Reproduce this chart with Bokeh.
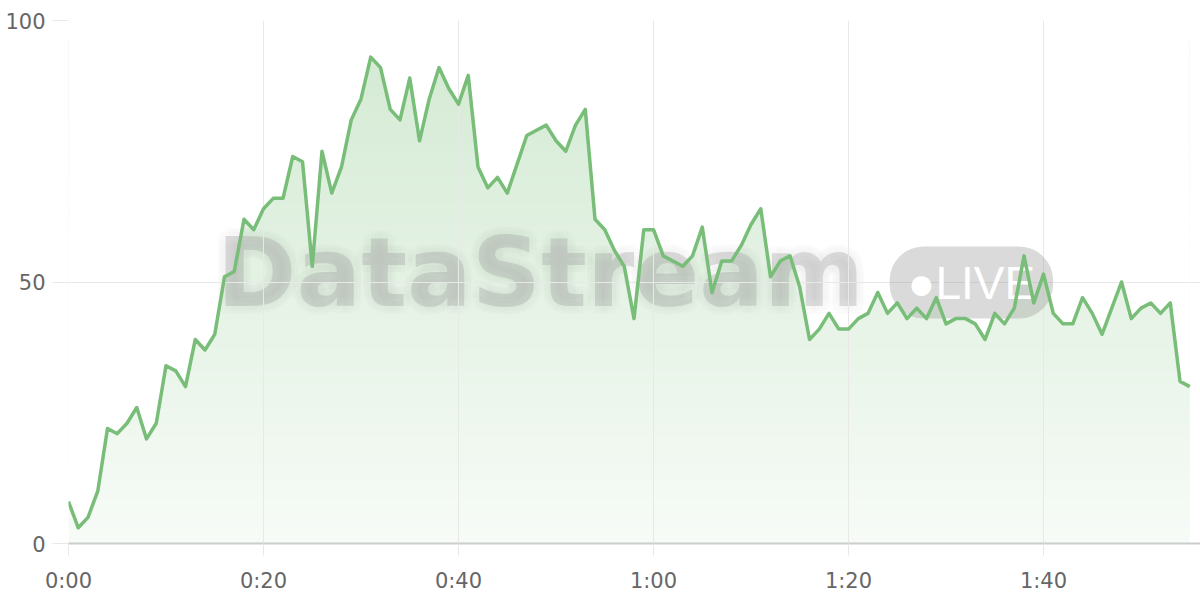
import math
from bokeh.plotting import figure
from bokeh.models import Range1d, FixedTicker, Label
from bokeh.core.properties import value
from bokeh.embed import file_html
from bokeh.resources import INLINE

# ---- data ----
minutes = list(range(116))
values = [8, 3, 5, 10, 22, 21, 23, 26, 20, 23,
          34, 33, 30, 39, 37, 40, 51, 52, 62, 60,
          64, 66, 66, 74, 73, 53, 75, 67, 72, 81,
          85, 93, 91, 83, 81, 89, 77, 85, 91, 87,
          84, 89.5, 72, 68, 70, 67, 72.5, 78, 79, 80,
          77, 75, 80, 83, 62, 60, 56, 53, 43, 60,
          60, 55, 54, 53, 55, 60.5, 48, 54, 54, 57,
          61, 64, 51, 54, 55, 49, 39, 41, 44, 41,
          41, 43, 44, 48, 44, 46, 43, 45, 43, 47,
          42, 43, 43, 42, 39, 44, 42, 45, 55, 46,
          51.5, 44, 42, 42, 47, 44, 40, 45, 50, 43,
          45, 46, 44, 46, 31, 30]
x_ticks = [0, 20, 40, 60, 80, 100]
x_tick_labels = ["0:00", "0:20", "0:40", "1:00", "1:20", "1:40"]
y_ticks = [0, 50, 100]
y_tick_labels = ["0", "50", "100"]
watermark_title = "DataStream"
watermark_badge = "\u25CFLIVE"

# ---- styling ----
LINE_RGB = (120, 190, 120)
LINE_COLOR = "#78bd78"
GRID = "#e8e8e8"
LABEL_COLOR = "#666666"
FONT = "DejaVu Sans"
X_MAX = 116.1

p = figure(width=1200, height=600, output_backend="svg", toolbar_location=None,
           x_range=Range1d(0, X_MAX), y_range=Range1d(0, 100),
           min_border_left=68, min_border_right=0, min_border_top=20,
           min_border_bottom=57)
p.outline_line_color = None
p.background_fill_color = "white"
p.border_fill_color = "white"

# vertical gradient fill under the line: opaque bands + white mask above the line
N = 90
top_v = max(values) + 3
edges = [top_v * i / N for i in range(N + 1)]
colors = []
for i in range(N):
    mid = (edges[i] + edges[i + 1]) / 2
    a = 0.06 + (0.32 - 0.06) * min(mid / 95.0, 1.0)
    r, g, b = [round(255 - a * (255 - c)) for c in LINE_RGB]
    colors.append("#%02x%02x%02x" % (r, g, b))
p.quad(left=[minutes[0]] * N, right=[minutes[-1]] * N,
       bottom=edges[:-1], top=[e + 0.2 for e in edges[1:]],
       fill_color=colors, line_color=None, level="image")
p.varea(x=minutes, y1=values, y2=[100] * len(values),
        fill_color="white", level="image")

# watermark: crisp core text plus a faint halo ring of copies
WM_X, WM_Y = 15.2, 51.8
wm_font = dict(text_font=value("DejaVu Sans"), text_font_style="bold",
               text_font_size="96px", text_color="#999999",
               text_align="left", text_baseline="alphabetic", level="underlay")
for k in range(12):
    ang = 2 * math.pi * k / 12
    p.text(x=[WM_X], y=[WM_Y], text=[watermark_title],
           x_offset=8 * math.cos(ang), y_offset=8 * math.sin(ang),
           text_alpha=0.022, **wm_font)
p.text(x=[WM_X], y=[WM_Y], text=[watermark_title], text_alpha=0.30, **wm_font)

badge = Label(x=92.6, y=49.9, text=watermark_badge, text_font="Liberation Sans",
              text_font_size="46px", text_color="white", text_align="center",
              text_baseline="middle", background_fill_color="#999999",
              background_fill_alpha=0.36, border_radius=34,
              padding=dict(left=18, right=18, top=10, bottom=10),
              level="underlay")
p.add_layout(badge)

# line
p.line(minutes, values, line_color=LINE_COLOR, line_width=3.5, line_join="round")

# grids
p.xgrid.ticker = FixedTicker(ticks=x_ticks)
p.ygrid.ticker = FixedTicker(ticks=y_ticks)
p.xgrid.grid_line_color = GRID
p.ygrid.grid_line_color = GRID

# axes
xa = p.xaxis[0]
xa.ticker = FixedTicker(ticks=x_ticks)
xa.major_label_overrides = dict(zip(x_ticks, x_tick_labels))
xa.axis_line_color = "#cccccc"
xa.axis_line_width = 2
xa.major_tick_line_color = GRID
xa.major_tick_out = 12
xa.major_tick_in = 0
xa.minor_tick_line_color = None
xa.major_label_standoff = 13
xa.major_label_text_font = FONT
xa.major_label_text_font_size = "21px"
xa.major_label_text_color = LABEL_COLOR

ya = p.yaxis[0]
ya.ticker = FixedTicker(ticks=y_ticks)
ya.major_label_overrides = dict(zip(y_ticks, y_tick_labels))
ya.axis_line_color = None
ya.major_tick_line_color = GRID
ya.major_tick_out = 16
ya.major_tick_in = 0
ya.minor_tick_line_color = None
ya.major_label_standoff = 7
ya.major_label_text_font = FONT
ya.major_label_text_font_size = "21px"
ya.major_label_text_color = LABEL_COLOR

open("out.html", "w").write(file_html(p, INLINE))
